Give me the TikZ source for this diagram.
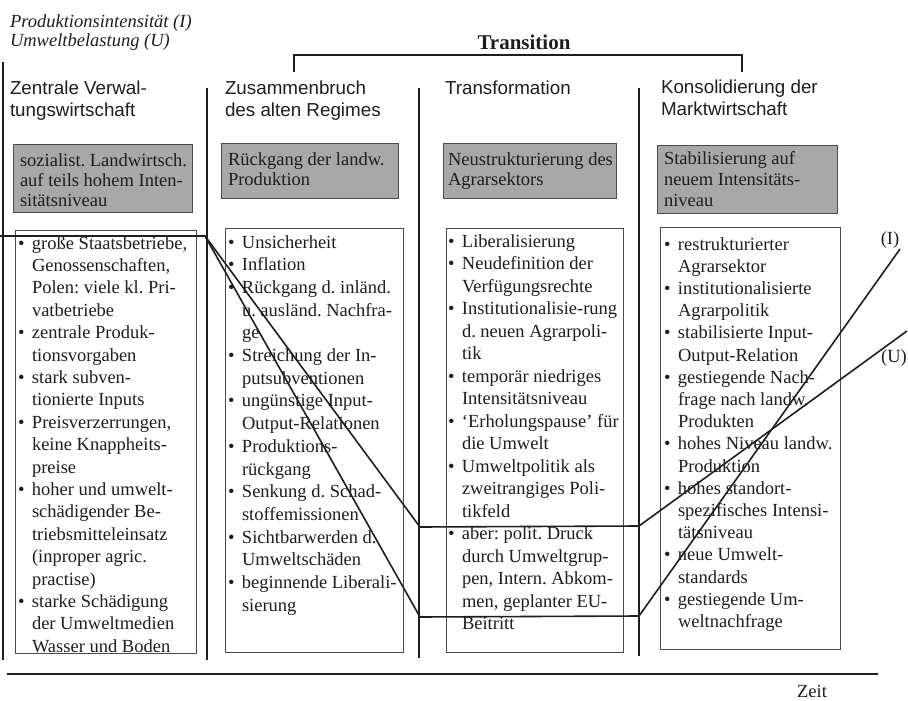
\documentclass[tikz,border=0pt]{standalone}
\usepackage{fontspec}
\setmainfont{Liberation Serif}
\newfontfamily\hdfont{Liberation Sans}
\usetikzlibrary{fit}
\definecolor{boxgrey}{RGB}{168,168,168}
\definecolor{ink}{RGB}{30,30,30}
\definecolor{frame}{RGB}{75,75,75}
\newcommand\bodyfont{\fontsize{18.5}{22.5}\selectfont}
\newcommand\bitem[1]{\par\hangindent=14pt\hangafter=1\noindent\hbox to 14pt{\textbullet\hss}#1}
\newcommand\blk[2]{\vtop{\hsize=300pt\frenchspacing\parindent=0pt\parskip=0pt\rightskip=0pt plus 1fil\baselineskip=#1\relax #2\par}}
\begin{document}
\begin{tikzpicture}[x=1pt,y=-1pt,
  txt/.style={anchor=base west, inner sep=0pt, outer sep=0pt, text=ink},
  body/.style={txt, font=\bodyfont},
  head/.style={txt, font=\hdfont\fontsize{18.8}{21}\selectfont},
  gbox/.style={draw=frame, line width=0.9pt, fill=boxgrey, inner sep=0pt},
  wbox/.style={draw=frame, line width=0.9pt, fill=white, inner sep=0pt},
  sep/.style={draw=ink, line width=1.3pt},
  curve/.style={draw=ink, line width=1.6pt, line join=miter}]
\useasboundingbox[fill=white] (0,0) rectangle (908,701);

% axis labels and title
\node[txt, font=\itshape\fontsize{18.5}{19}\selectfont] (lab) at (10,28)
  {\blk{19pt}{Produktionsintensität (I)\newline Umweltbelastung (U)}};
\node[txt, anchor=base, font=\bfseries\fontsize{21}{22}\selectfont] (trans) at (524,50) {Transition};
\draw[sep, line width=1.2pt] (294,72) -- (294,55) -- (742,55) -- (742,72);

% separators and time axis
\draw[sep] (3,62) -- (3,660);
\draw[sep] (207,88) -- (207,660);
\draw[sep] (419,88) -- (419,658);
\draw[sep] (639,88) -- (639,656);
\draw[sep] (7,674) -- (878,674);
\node[txt, anchor=base, font=\fontsize{18.5}{20}\selectfont] (zeit) at (812,697) {Zeit};

% headers
\node[head] (h1) at (10,95) {\blk{21pt}{Zentrale Verwal-\newline tungswirtschaft}};
\node[head] (h2) at (225,95) {\blk{21pt}{Zusammenbruch\newline des alten Regimes}};
\node[head] (h3) at (445,95) {\blk{21pt}{Transformation}};
\node[head] (h4) at (661,94) {\blk{21pt}{Konsolidierung der\newline Marktwirtschaft}};

% grey boxes
\node[gbox, fit={(13,144) (192,212)}] (g1) {};
\node[gbox, fit={(221,143) (398,198)}] (g2) {};
\node[gbox, fit={(443,143) (616,198)}] (g3) {};
\node[gbox, fit={(657,145) (837,213)}] (g4) {};
\node[body] (gt1) at (20,166) {\blk{20pt}{sozialist. Landwirtsch.\newline auf teils hohem Inten-\newline sitätsniveau}};
\node[body] (gt2) at (228,165) {\blk{20pt}{Rückgang der landw.\newline Produktion}};
\node[body] (gt3) at (448,165) {\blk{20pt}{Neustrukturierung des\newline Agrarsektors}};
\node[body] (gt4) at (664,164) {\blk{21.5pt}{Stabilisierung auf\newline neuem Intensitäts-\newline niveau}};

% white boxes
\node[wbox, fit={(15,230) (196,653)}] (w1) {};
\node[wbox, fit={(225,228) (403,652)}] (w2) {};
\node[wbox, fit={(446,228) (623,652)}] (w3) {};
\node[wbox, fit={(660,227) (840,649)}] (w4) {};

\node[body] (t1) at (18,249) {\blk{22.4pt}{%
\bitem{große Staatsbetriebe,\newline Genossenschaften,\newline Polen: viele kl. Pri-\newline vatbetriebe}
\bitem{zentrale Produk-\newline tionsvorgaben}
\bitem{stark subven-\newline tionierte Inputs}
\bitem{Preisverzerrungen,\newline keine Knappheits-\newline preise}
\bitem{hoher und umwelt-\newline schädigender Be-\newline triebsmitteleinsatz\newline (inproper agric.\newline practise)}
\bitem{starke Schädigung\newline der Umweltmedien\newline Wasser und Boden}}};

\node[body] (t2) at (228,248) {\blk{22.7pt}{%
\bitem{Unsicherheit}
\bitem{Inflation}
\bitem{Rückgang d. inländ.\newline u. ausländ. Nachfra-\newline ge}
\bitem{Streichung der In-\newline putsubventionen}
\bitem{ungünstige Input-\newline Output-Relationen}
\bitem{Produktions-\newline rückgang}
\bitem{Senkung d. Schad-\newline stoffemissionen}
\bitem{Sichtbarwerden d.\newline Umweltschäden}
\bitem{beginnende Liberali-\newline sierung}}};

\node[body] (t3) at (448,247) {\blk{22.5pt}{%
\bitem{Liberalisierung}
\bitem{Neudefinition der\newline Verfügungsrechte}
\bitem{Institutionalisie-rung\newline d. neuen Agrarpoli-\newline tik}
\bitem{temporär niedriges\newline Intensitätsniveau}
\bitem{`Erholungspause' für\newline die Umwelt}
\bitem{Umweltpolitik als\newline zweitrangiges Poli-\newline tikfeld}
\bitem{aber: polit. Druck\newline durch Umweltgrup-\newline pen, Intern. Abkom-\newline men, geplanter EU-\newline Beitritt}}};

\node[body] (t4) at (664,250) {\blk{22.2pt}{%
\bitem{restrukturierter\newline Agrarsektor}
\bitem{institutionalisierte\newline Agrarpolitik}
\bitem{stabilisierte Input-\newline Output-Relation}
\bitem{gestiegende Nach-\newline frage nach landw.\newline Produkten}
\bitem{hohes Niveau landw.\newline Produktion}
\bitem{hohes standort-\newline spezifisches Intensi-\newline tätsniveau}
\bitem{neue Umwelt-\newline standards}
\bitem{gestiegende Um-\newline weltnachfrage}}};

% curve labels
\node[txt, anchor=base, font=\fontsize{18.5}{20}\selectfont] (labI) at (890,244) {(I)};
\node[txt, anchor=base, font=\fontsize{18.5}{20}\selectfont] (labU) at (894,362) {(U)};

% curves
\coordinate (s0) at (0,236);
\coordinate (s1) at (205,236);
\coordinate (i1) at (420,617);
\coordinate (i2) at (639,616);
\coordinate (i3) at (900,249);
\coordinate (u1) at (420,527);
\coordinate (u2) at (639,526);
\coordinate (u3) at (907,331);
\draw[curve] (s0) -- (s1) -- (i1) -- (i2) -- (i3);
\draw[curve] (s1) -- (u1) -- (u2) -- (u3);
\end{tikzpicture}
\end{document}
